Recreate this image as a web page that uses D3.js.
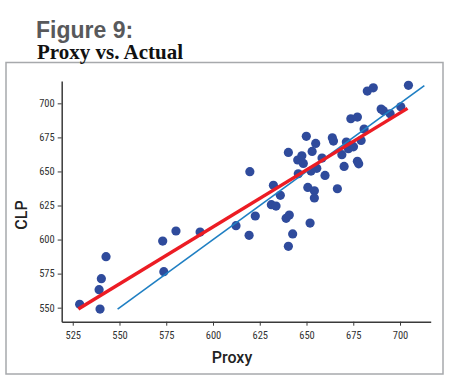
<!DOCTYPE html>
<html>
<head>
<meta charset="utf-8">
<script src="https://cdn.jsdelivr.net/npm/d3@7"></script>
<style>
  body { margin: 0; background: #fff; }
</style>
</head>
<body>
<div id="chart"></div>
<script>
// proxy score vs actual CLP
const proxy = [528.7, 539.6, 539.1, 540.3, 542.8, 573.1, 573.7, 580.2, 593.1, 612.3,
  619.7, 622.6, 619.3, 632.3, 636.0, 631.2, 633.7, 639.1, 640.8, 642.6,
  640.3, 651.9, 650.7, 654.2, 654.2, 666.5, 645.6, 659.9, 670.1, 677.2,
  677.9, 645.3, 647.5, 648.3, 658.3, 655.5, 652.4, 640.3, 653.0, 649.9,
  654.9, 663.8, 664.4, 671.3, 674.2, 672.4, 675.1, 668.9, 679.2, 680.8,
  673.7, 677.2, 689.9, 691.1, 694.7, 700.4, 682.5, 685.7, 704.5];
const clp = [552.5, 549.0, 563.2, 571.3, 587.4, 598.9, 576.4, 606.3, 605.5, 610.2,
  649.8, 617.3, 603.1, 639.8, 632.5, 625.6, 624.6, 615.6, 618.0, 604.1,
  595.0, 612.1, 638.3, 635.8, 630.5, 637.3, 648.3, 647.1, 653.7, 657.4,
  655.6, 658.4, 661.5, 655.9, 659.8, 652.3, 650.3, 664.0, 664.7, 675.8,
  670.6, 674.7, 672.3, 671.6, 669.1, 666.7, 668.1, 662.3, 672.8, 681.1,
  688.7, 689.9, 695.8, 694.5, 692.3, 697.5, 709.0, 711.4, 713.2];

// fitted line and the y = x reference line
const fitX = [528, 704];
const fitY = [549, 696.3];
const refX = [549, 713];
const refY = [549, 713];

const xTicks = [525, 550, 575, 600, 625, 650, 675, 700];
const yTicks = [550, 575, 600, 625, 650, 675, 700];

const width = 450, height = 380;

const x = d3.scaleLinear().domain([519.1, 716.4]).range([61.7, 430.7]);
const y = d3.scaleLinear().domain([539.7, 716.4]).range([321.7, 81]);

const svg = d3.select("#chart").append("svg")
    .attr("width", width)
    .attr("height", height);

svg.append("rect")
    .attr("x", 6).attr("y", 62.5)
    .attr("width", 437).attr("height", 311.5)
    .attr("fill", "none")
    .attr("stroke", "#a7a9ac")
    .attr("stroke-width", 1.5);

svg.append("text")
    .attr("x", 36).attr("y", 37.5)
    .attr("font-family", "Liberation Sans, Arial, sans-serif")
    .attr("font-weight", "bold")
    .attr("font-size", 23)
    .attr("fill", "#58595b")
    .text("Figure 9:");

svg.append("text")
    .attr("x", 37).attr("y", 59)
    .attr("font-family", "Liberation Serif, Times New Roman, serif")
    .attr("font-weight", "bold")
    .attr("font-size", 21)
    .attr("fill", "#111")
    .text("Proxy vs. Actual");

const tickFont = "Liberation Sans Narrow, Roboto Condensed, Roboto, sans-serif";

const gx = svg.append("g")
    .attr("transform", `translate(0,${y.range()[0]})`)
    .call(d3.axisBottom(x).tickValues(xTicks).tickSize(4).tickSizeOuter(0));
const gy = svg.append("g")
    .attr("transform", `translate(${x.range()[0]},0)`)
    .call(d3.axisLeft(y).tickValues(yTicks).tickSize(4).tickSizeOuter(0));

[gx, gy].forEach(g => {
    g.select(".domain").attr("stroke", "#3a3a3a").attr("stroke-width", 1.5);
    g.selectAll(".tick line").attr("stroke", "#3a3a3a");
    g.selectAll(".tick text")
        .attr("font-family", tickFont)
        .attr("font-size", 10.5)
        .attr("fill", "#333");
});
gx.selectAll(".tick text").attr("dy", "1em");

svg.append("text")
    .attr("x", 232).attr("y", 363)
    .attr("text-anchor", "middle")
    .attr("font-family", "Roboto, sans-serif")
    .attr("font-weight", 500)
    .attr("font-size", 16)
    .attr("fill", "#222")
    .text("Proxy");

svg.append("text")
    .attr("transform", "translate(27,215) rotate(-90)")
    .attr("text-anchor", "middle")
    .attr("font-family", "Roboto, sans-serif")
    .attr("font-weight", 500)
    .attr("font-size", 16)
    .attr("fill", "#222")
    .text("CLP");

svg.append("g")
    .selectAll("circle")
    .data(proxy)
    .join("circle")
    .attr("cx", d => x(d))
    .attr("cy", (d, i) => y(clp[i]))
    .attr("r", 4.6)
    .attr("fill", "#2f4b9c");

const line = d3.line().x(d => x(d[0])).y(d => y(d[1]));

svg.append("path")
    .datum(d3.zip(refX, refY))
    .attr("d", line)
    .attr("fill", "none")
    .attr("stroke", "#1f7fc3")
    .attr("stroke-width", 1.6);

svg.append("path")
    .datum(d3.zip(fitX, fitY))
    .attr("d", line)
    .attr("fill", "none")
    .attr("stroke", "#ec1c24")
    .attr("stroke-width", 3.5);
</script>
</body>
</html>
